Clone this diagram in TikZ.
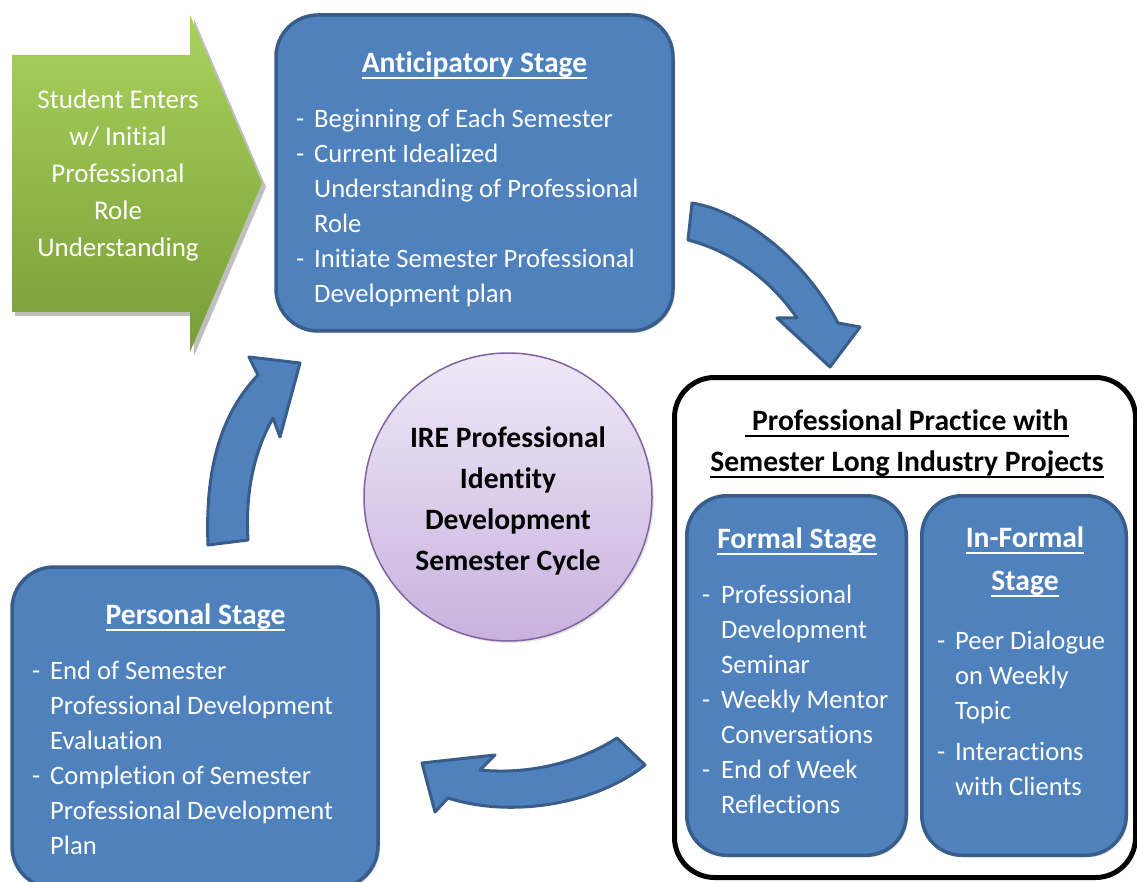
\documentclass[tikz,border=0pt]{standalone}
\usepackage{fontspec}
\setmainfont{Carlito}[Ligatures=NoCommon]
\usetikzlibrary{shadows}
\definecolor{bfill}{HTML}{4F81BD}
\definecolor{bline}{HTML}{385D8A}
\definecolor{gtop}{HTML}{A8D25C}
\definecolor{gbot}{HTML}{7A9D37}
\definecolor{ptop}{HTML}{EFE8F7}
\definecolor{pbot}{HTML}{C8B2DE}
\definecolor{pline}{HTML}{8064A2}
\newcommand\ulx[1]{\setbox0\hbox{#1}\rlap{\rule[-6.5pt]{\wd0}{2pt}}\box0}
\tikzset{
  stagebox/.style={rectangle, draw=bline, fill=bfill, line width=3.5pt, rounded corners=42pt, inner sep=0pt,
    drop shadow={opacity=0.25, shadow xshift=2pt, shadow yshift=-2pt}},
  blockarrow/.style={draw=bline, fill=bfill, line width=3pt, line join=round},
  wtext/.style={inner sep=0pt, text=white, font=\fontsize{26.6}{35}\selectfont},
  wtitle/.style={inner sep=0pt, anchor=base, text=white, font=\bfseries\fontsize{29.6}{43}\selectfont},
  ktitle/.style={inner sep=0pt, anchor=base, text=black, font=\bfseries\fontsize{29.6}{41}\selectfont},
}
\begin{document}
\begin{tikzpicture}[x=1pt,y=-1pt]
\useasboundingbox (0,0) rectangle (1137,882);
\clip (0,0) rectangle (1137,882);
\fill[white] (0,0) rectangle (1137,882);

% green entry arrow
\fill[black, opacity=0.25] (15,59) -- (194,59) -- (194,19) -- (266,187) -- (194,356) -- (194,316) -- (15,316) -- cycle;
\shade[top color=gtop, bottom color=gbot] (12,55) -- (190,55) -- (190,15) -- (262,183) -- (190,352) -- (190,312) -- (12,312) -- cycle;
\node[inner sep=0pt, anchor=base, text=white, font=\fontsize{27}{37}\selectfont] (enter) at (118,109)
  {\begin{tabular}[t]{@{}c@{}}Student Enters\\ w/ Initial\\ Professional\\ Role\\ Understanding\end{tabular}};

% anticipatory stage
\node[stagebox, minimum width=397pt, minimum height=316pt] (antic) at (474.5,173) {};
\node[wtitle] (antict) at (474.5,73) {\ulx{Anticipatory Stage}};
\node[wtext, anchor=base west] (anticl) at (296,128)
  {\begin{tabular}[t]{@{}p{18pt}@{}l@{}}-&Beginning of Each Semester\\ -&Current Idealized\\ &Understanding of Professional\\ &Role\\ -&Initiate Semester Professional\\ &Development plan\end{tabular}};

% personal stage
\node[stagebox, minimum width=366pt, minimum height=321pt] (pers) at (195,727.5) {};
\node[wtitle] (perst) at (195.5,624) {\ulx{Personal Stage}};
\node[wtext, anchor=base west] (persl) at (32,679)
  {\begin{tabular}[t]{@{}p{18pt}@{}l@{}}-&End of Semester\\ &Professional Development\\ &Evaluation\\ -&Completion of Semester\\ &Professional Development\\ &Plan\end{tabular}};

% professional practice box
\node[rectangle, draw=black, fill=white, line width=5pt, rounded corners=40pt, minimum width=461pt, minimum height=500pt] (prac) at (905,627.5) {};
\node[ktitle] (pract) at (907,430)
  {\begin{tabular}[t]{@{}c@{}}\ulx{\ Professional Practice with}\\ \ulx{Semester Long Industry Projects}\end{tabular}};

% formal stage
\node[stagebox, rounded corners=40pt, minimum width=219.5pt, minimum height=359.5pt] (formal) at (796.5,675.5) {};
\node[wtitle] (formalt) at (797,548) {\ulx{Formal Stage}};
\node[wtext, anchor=base west] (formall) at (702,603)
  {\begin{tabular}[t]{@{}p{19pt}@{}l@{}}-&Professional\\ &Development\\ &Seminar\\ -&Weekly Mentor\\ &Conversations\\ -&End of Week\\ &Reflections\end{tabular}};

% informal stage
\node[stagebox, rounded corners=40pt, minimum width=204.5pt, minimum height=359.5pt] (informal) at (1024,675.5) {};
\node[wtitle] (informalt) at (1025,547)
  {\begin{tabular}[t]{@{}c@{}}\ulx{In-Formal}\\ \ulx{Stage}\end{tabular}};
\node[wtext, anchor=base west] (informall) at (937,649)
  {\begin{tabular}[t]{@{}p{18pt}@{}l@{}}-&Peer Dialogue\\ &on Weekly\\ &Topic\\[6pt] -&Interactions\\ &with Clients\end{tabular}};

% centre circle
\node[circle, draw=pline, line width=1.5pt, top color=ptop, bottom color=pbot, minimum size=288pt, inner sep=0pt,
  drop shadow={opacity=0.2, shadow xshift=2pt, shadow yshift=-2pt}] (cycle) at (508,497) {};
\node[ktitle] (cyclet) at (508,447)
  {\begin{tabular}[t]{@{}c@{}}IRE Professional\\ Identity\\ Development\\ Semester Cycle\end{tabular}};

% curved block arrows
\draw[blockarrow] (692,203) .. controls (745,212) and (805,260) .. (838,323) -- (860,327) -- (830,367) -- (777,318) -- (797,318) .. controls (773,283) and (735,252) .. (688,240) -- cycle;
\draw[blockarrow] (617,738) .. controls (580,762) and (530,775) .. (480,770) -- (495,755) -- (422,763) -- (435,812) -- (448,798) .. controls (510,818) and (595,805) .. (645,765) -- cycle;
\draw[blockarrow] (208,545) .. controls (205,470) and (220,415) .. (258,375) -- (249,357) -- (300,363) -- (280,437) -- (273,418) .. controls (255,450) and (245,490) .. (248,540) -- cycle;
\end{tikzpicture}
\end{document}
